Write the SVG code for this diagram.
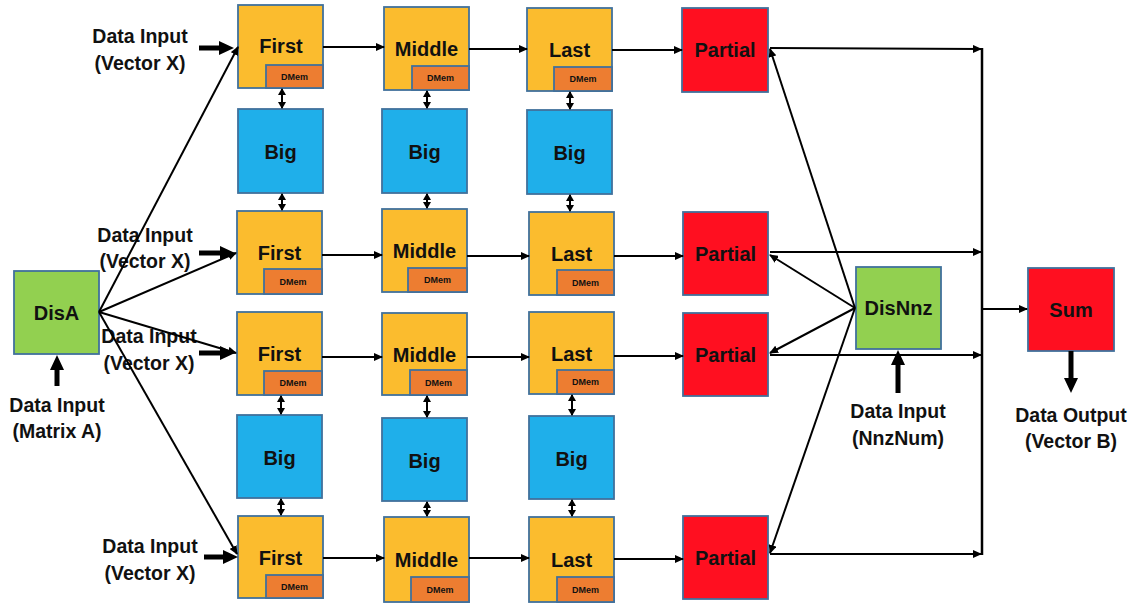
<svg xmlns="http://www.w3.org/2000/svg" width="1135" height="603" viewBox="0 0 1135 603">
  <defs>
    <style>
      .box { stroke: #41719C; stroke-width: 1.8; }
      .stage { fill: #FBBC2E; }
      .dmem { fill: #ED7D31; }
      .big { fill: #1FAFEA; }
      .red { fill: #FF0F20; }
      .green { fill: #92D050; }
      text { font-family: "Liberation Sans", Arial, sans-serif; font-weight: bold; fill: #111; text-anchor: middle; }
      .t { font-size: 20px; }
      .s { font-size: 9px; }
      .lbl { font-size: 19.5px; }
      .c { stroke: #000; stroke-width: 2; fill: none; marker-end: url(#ah); }
      .d { stroke: #000; stroke-width: 2; fill: none; marker-start: url(#sh); marker-end: url(#sh); }
      .p { stroke: #000; stroke-width: 2.5; fill: none; }
      .thick { stroke: #000; stroke-width: 5; fill: none; marker-end: url(#bh); }
    </style>
    <marker id="ah" markerUnits="userSpaceOnUse" markerWidth="9" markerHeight="8" refX="8" refY="4" orient="auto-start-reverse">
      <path d="M0,0 L9,4 L0,8 z" fill="#000"/>
    </marker>
    <marker id="sh" markerUnits="userSpaceOnUse" markerWidth="7" markerHeight="8" refX="6" refY="4" orient="auto-start-reverse">
      <path d="M0,0 L7,4 L0,8 z" fill="#000"/>
    </marker>
    <marker id="bh" markerUnits="userSpaceOnUse" markerWidth="16" markerHeight="14" refX="0" refY="7" orient="auto">
      <path d="M0,0 L15,7 L0,14 z" fill="#000"/>
    </marker>
  </defs>
  <rect width="1135" height="603" fill="#fff"/>

  <!-- input / output labels -->
  <g id="labels">
    <text class="lbl" x="140" y="43">Data Input</text>
    <text class="lbl" x="140" y="70">(Vector X)</text>
    <text class="lbl" x="145" y="242">Data Input</text>
    <text class="lbl" x="145" y="268">(Vector X)</text>
    <text class="lbl" x="149" y="343">Data Input</text>
    <text class="lbl" x="149" y="370">(Vector X)</text>
    <text class="lbl" x="150" y="553">Data Input</text>
    <text class="lbl" x="150" y="580">(Vector X)</text>
    <text class="lbl" x="57" y="412">Data Input</text>
    <text class="lbl" x="57" y="438">(Matrix A)</text>
    <text class="lbl" x="898" y="418">Data Input</text>
    <text class="lbl" x="898" y="445">(NnzNum)</text>
    <text class="lbl" x="1071" y="422">Data Output</text>
    <text class="lbl" x="1071" y="448">(Vector B)</text>
  </g>

  <!-- distributors and reduction -->
  <g id="disA"><rect class="box green" x="14" y="271" width="85" height="83"/><text class="t" x="56.5" y="319.5">DisA</text></g>
  <g id="disNnz"><rect class="box green" x="856" y="267" width="85" height="82"/><text class="t" x="898.5" y="315">DisNnz</text></g>
  <g id="sum"><rect class="box red" x="1028" y="268" width="86" height="83"/><text class="t" x="1071" y="317">Sum</text></g>

  <!-- row 1 -->
  <g id="first1"><rect class="box stage" x="238" y="5" width="85" height="83"/><rect class="box dmem" x="266" y="65" width="57" height="23"/><text class="t" x="281" y="53">First</text><text class="s" x="294.5" y="80">DMem</text></g>
  <g id="middle1"><rect class="box stage" x="384" y="7" width="85" height="83"/><rect class="box dmem" x="412" y="66" width="57" height="24"/><text class="t" x="426.5" y="56">Middle</text><text class="s" x="440.5" y="81">DMem</text></g>
  <g id="last1"><rect class="box stage" x="527" y="8" width="85" height="83"/><rect class="box dmem" x="554" y="67" width="58" height="24"/><text class="t" x="569.5" y="57">Last</text><text class="s" x="583" y="82">DMem</text></g>
  <g id="partial1"><rect class="box red" x="682" y="8" width="86" height="84"/><text class="t" x="725" y="57">Partial</text></g>

  <!-- big memories between rows 1 and 2 -->
  <g id="big1a"><rect class="box big" x="238" y="109" width="85" height="84"/><text class="t" x="280.5" y="159">Big</text></g>
  <g id="big2a"><rect class="box big" x="382" y="109" width="85" height="84"/><text class="t" x="424.5" y="159">Big</text></g>
  <g id="big3a"><rect class="box big" x="527" y="110" width="85" height="84"/><text class="t" x="569.5" y="160">Big</text></g>

  <!-- row 2 -->
  <g id="first2"><rect class="box stage" x="237" y="211" width="85" height="83"/><rect class="box dmem" x="264" y="269" width="58" height="25"/><text class="t" x="279.5" y="260">First</text><text class="s" x="293" y="285">DMem</text></g>
  <g id="middle2"><rect class="box stage" x="382" y="209" width="85" height="83"/><rect class="box dmem" x="408" y="268" width="59" height="24"/><text class="t" x="424.5" y="258">Middle</text><text class="s" x="437.5" y="283">DMem</text></g>
  <g id="last2"><rect class="box stage" x="529" y="212" width="85" height="83"/><rect class="box dmem" x="557" y="270" width="57" height="25"/><text class="t" x="571.5" y="261">Last</text><text class="s" x="585.5" y="286">DMem</text></g>
  <g id="partial2"><rect class="box red" x="683" y="212" width="85" height="83"/><text class="t" x="725.5" y="261">Partial</text></g>

  <!-- row 3 -->
  <g id="first3"><rect class="box stage" x="237" y="312" width="85" height="83"/><rect class="box dmem" x="264" y="371" width="58" height="24"/><text class="t" x="279.5" y="361">First</text><text class="s" x="293" y="386">DMem</text></g>
  <g id="middle3"><rect class="box stage" x="382" y="313" width="85" height="82"/><rect class="box dmem" x="410" y="370" width="57" height="25"/><text class="t" x="424.5" y="362">Middle</text><text class="s" x="438.5" y="386">DMem</text></g>
  <g id="last3"><rect class="box stage" x="529" y="312" width="85" height="82"/><rect class="box dmem" x="557" y="370" width="57" height="24"/><text class="t" x="571.5" y="361">Last</text><text class="s" x="585.5" y="385">DMem</text></g>
  <g id="partial3"><rect class="box red" x="683" y="313" width="85" height="83"/><text class="t" x="725.5" y="362">Partial</text></g>

  <!-- big memories between rows 3 and 4 -->
  <g id="big1b"><rect class="box big" x="237" y="415" width="85" height="83"/><text class="t" x="279.5" y="465">Big</text></g>
  <g id="big2b"><rect class="box big" x="382" y="418" width="85" height="83"/><text class="t" x="424.5" y="468">Big</text></g>
  <g id="big3b"><rect class="box big" x="529" y="416" width="85" height="83"/><text class="t" x="571.5" y="466">Big</text></g>

  <!-- row 4 -->
  <g id="first4"><rect class="box stage" x="238" y="516" width="85" height="82"/><rect class="box dmem" x="266" y="575" width="57" height="23"/><text class="t" x="280.5" y="565">First</text><text class="s" x="294.5" y="590">DMem</text></g>
  <g id="middle4"><rect class="box stage" x="384" y="517" width="85" height="85"/><rect class="box dmem" x="411" y="577" width="58" height="25"/><text class="t" x="426.5" y="567">Middle</text><text class="s" x="440" y="593">DMem</text></g>
  <g id="last4"><rect class="box stage" x="529" y="517" width="85" height="85"/><rect class="box dmem" x="557" y="577" width="57" height="25"/><text class="t" x="571.5" y="567">Last</text><text class="s" x="585.5" y="593">DMem</text></g>
  <g id="partial4"><rect class="box red" x="683" y="516" width="85" height="83"/><text class="t" x="725.5" y="565">Partial</text></g>

  <g id="connectors">
    <!-- external inputs -->
    <line class="thick" x1="199" y1="48" x2="219" y2="48"/>
    <line class="thick" x1="199" y1="253" x2="220" y2="253"/>
    <line class="thick" x1="199" y1="353" x2="220" y2="353"/>
    <line class="thick" x1="204" y1="557" x2="223" y2="557"/>
    <line class="thick" x1="57" y1="386" x2="57" y2="370"/>
    <line class="thick" x1="898" y1="393" x2="898" y2="365"/>
    <line class="thick" x1="1071" y1="351" x2="1071" y2="378"/>

    <!-- DisA fan-out -->
    <line class="c" x1="99" y1="312" x2="238" y2="47"/>
    <line class="c" x1="99" y1="312" x2="236" y2="253"/>
    <line class="c" x1="99" y1="312" x2="236" y2="353"/>
    <line class="c" x1="99" y1="312" x2="237" y2="554"/>

    <!-- pipeline rows -->
    <line class="c" x1="323" y1="47" x2="384" y2="47"/>
    <line class="c" x1="469" y1="49" x2="527" y2="49"/>
    <line class="c" x1="612" y1="50" x2="682" y2="50"/>
    <line class="c" x1="322" y1="255" x2="382" y2="255"/>
    <line class="c" x1="467" y1="256" x2="529" y2="256"/>
    <line class="c" x1="614" y1="256" x2="683" y2="256"/>
    <line class="c" x1="322" y1="357" x2="382" y2="357"/>
    <line class="c" x1="467" y1="357" x2="529" y2="357"/>
    <line class="c" x1="614" y1="356" x2="683" y2="356"/>
    <line class="c" x1="323" y1="558" x2="384" y2="558"/>
    <line class="c" x1="469" y1="558" x2="529" y2="558"/>
    <line class="c" x1="614" y1="559" x2="683" y2="559"/>

    <!-- DMem to Big links -->
    <line class="d" x1="282" y1="89" x2="282" y2="108"/>
    <line class="d" x1="282" y1="194" x2="282" y2="210"/>
    <line class="d" x1="427" y1="91" x2="427" y2="108"/>
    <line class="d" x1="427" y1="194" x2="427" y2="208"/>
    <line class="d" x1="570" y1="92" x2="570" y2="109"/>
    <line class="d" x1="570" y1="195" x2="570" y2="211"/>
    <line class="d" x1="281" y1="396" x2="281" y2="414"/>
    <line class="d" x1="281" y1="499" x2="281" y2="515"/>
    <line class="d" x1="427" y1="396" x2="427" y2="417"/>
    <line class="d" x1="427" y1="502" x2="427" y2="516"/>
    <line class="d" x1="572" y1="395" x2="572" y2="415"/>
    <line class="d" x1="572" y1="500" x2="572" y2="516"/>

    <!-- DisNnz fan-out -->
    <line class="c" x1="855" y1="308" x2="770" y2="49"/>
    <line class="c" x1="855" y1="308" x2="770" y2="255"/>
    <line class="c" x1="855" y1="308" x2="770" y2="353"/>
    <line class="c" x1="855" y1="308" x2="770" y2="553"/>

    <!-- partial results to the reduction bus -->
    <line class="c" x1="770" y1="48" x2="981" y2="49"/>
    <line class="c" x1="770" y1="252" x2="981" y2="252"/>
    <line class="c" x1="770" y1="355" x2="981" y2="355"/>
    <line class="c" x1="770" y1="554" x2="981" y2="554"/>
    <line class="p" x1="982" y1="48" x2="982" y2="555"/>
    <line class="c" x1="982" y1="309" x2="1027" y2="309"/>
  </g>
</svg>
